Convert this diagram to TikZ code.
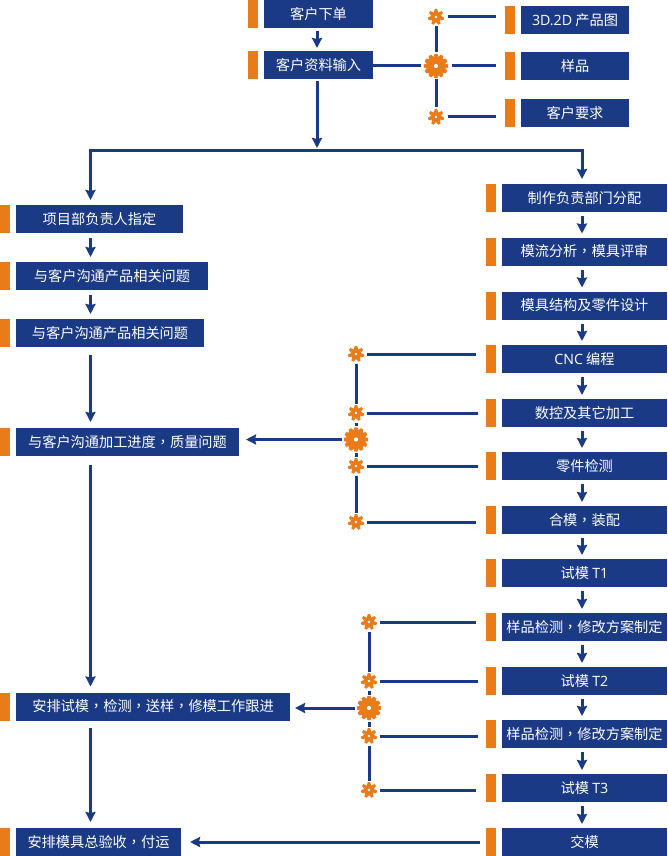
\documentclass[tikz,border=0pt]{standalone}
\usepackage{fontspec}
\setmainfont{Noto Sans CJK SC}
\newfontfamily\latinfont{Open Sans}
\newfontfamily\commafont{Noto Sans CJK TC}
\usetikzlibrary{positioning,arrows.meta}
\definecolor{stepblue}{HTML}{1A3A85}
\definecolor{steporange}{HTML}{E97B18}
\newcommand{\zc}{{\commafont ，}}
\newcommand{\lt}[1]{{\latinfont #1}}
\newcommand{\drawgear}[5]{% name, body radius, tip radius, teeth, tooth half width
    \fill[steporange] (#1) circle (#2);
    \foreach \t in {1,...,#4} {
        \fill[steporange,shift={(#1)},rotate=\t*360/#4]
            (-#5,#2-0.5) -- (-#5*0.6,#3) -- (#5*0.6,#3) -- (#5,#2-0.5) -- cycle;
    }
    \fill[white] (#1) circle (#3*0.17);
}
\tikzset{
    stepbox/.style={fill=stepblue,text=white,minimum height=28,inner sep=0,outer sep=0,font=\fontsize{14.2}{14.2}\selectfont},
    stepbar/.style={fill=steporange,minimum height=28,minimum width=9.5,inner sep=0,outer sep=0},
    smallgear/.style={circle,minimum size=16,inner sep=0,outer sep=1.5},
    biggear/.style={circle,minimum size=24,inner sep=0,outer sep=1.5},
    link/.style={draw=stepblue,line width=3},
    flow/.style={link,-{Stealth[length=10,width=10,inset=1]}},
}
\begin{document}
\begin{tikzpicture}[x=1pt,y=1pt]
    \useasboundingbox (0,0) rectangle (667,-856);
    \coordinate (leftx) at (90.5,0);
    \coordinate (rightx) at (582,0);
    \coordinate (fork) at (317,-150);
    \coordinate (forkleft) at (90.5,-150);
    \coordinate (forkright) at (582,-150);

    % top
    \node[stepbox,minimum width=109] (order) at (318.5,-14) {客户下单};
    \node[stepbox,minimum width=109] (input) at (318.5,-65) {客户资料输入};
    \node[stepbox,minimum width=108] (drawing) at (575,-20) {\lt{3D.2D} 产品图};
    \node[stepbox,minimum width=108] (sample) at (575,-66) {样品};
    \node[stepbox,minimum width=108] (demand) at (575,-113) {客户要求};

    % left column
    \node[stepbox,minimum width=167] (manager) at (99.5,-219) {项目部负责人指定};
    \node[stepbox,minimum width=192] (talka) at (112,-276) {与客户沟通产品相关问题};
    \node[stepbox,minimum width=188] (talkb) at (110,-333) {与客户沟通产品相关问题};
    \node[stepbox,minimum width=223] (talkc) at (127.5,-442) {与客户沟通加工进度\zc 质量问题};
    \node[stepbox,minimum width=274] (follow) at (153,-706.5) {安排试模\zc 检测\zc 送样\zc 修模工作跟进};
    \node[stepbox,minimum width=165] (accept) at (98.5,-842) {安排模具总验收\zc 付运};

    % right column
    \node[stepbox,minimum width=165] (assign) at (584.5,-198) {制作负责部门分配};
    \node[stepbox,minimum width=165] (review) at (584.5,-251.5) {模流分析\zc 模具评审};
    \node[stepbox,minimum width=165] (design) at (584.5,-305.5) {模具结构及零件设计};
    \node[stepbox,minimum width=165] (cnc) at (584.5,-359) {\lt{CNC} 编程};
    \node[stepbox,minimum width=165] (machining) at (584.5,-413) {数控及其它加工};
    \node[stepbox,minimum width=165] (inspect) at (584.5,-466) {零件检测};
    \node[stepbox,minimum width=165] (assemble) at (584.5,-520) {合模\zc 装配};
    \node[stepbox,minimum width=165] (tone) at (584.5,-573) {试模 \lt{T1}};
    \node[stepbox,minimum width=165] (checka) at (584.5,-627) {样品检测\zc 修改方案制定};
    \node[stepbox,minimum width=165] (ttwo) at (584.5,-681) {试模 \lt{T2}};
    \node[stepbox,minimum width=165] (checkb) at (584.5,-734) {样品检测\zc 修改方案制定};
    \node[stepbox,minimum width=165] (tthree) at (584.5,-788) {试模 \lt{T3}};
    \node[stepbox,minimum width=165] (deliver) at (584.5,-842) {交模};

    \foreach \b in {order,input,drawing,sample,demand,manager,talka,talkb,talkc,follow,accept,assign,review,design,cnc,machining,inspect,assemble,tone,checka,ttwo,checkb,tthree,deliver}
        \node[stepbar,left=6.5pt of \b] (\b bar) {};

    % gears
    \node[smallgear] (gtopa) at (436,-17) {};
    \node[biggear] (gtop) at (436,-66) {};
    \node[smallgear] (gtopb) at (436,-117) {};
    \node[smallgear] (gmida) at (356,-354) {};
    \node[smallgear] (gmidb) at (356,-413) {};
    \node[biggear] (gmid) at (356,-439.5) {};
    \node[smallgear] (gmidc) at (356,-466) {};
    \node[smallgear] (gmidd) at (356,-522) {};
    \node[smallgear] (gloa) at (369,-622) {};
    \node[smallgear] (glob) at (369,-681) {};
    \node[biggear] (glo) at (369,-708) {};
    \node[smallgear] (gloc) at (369,-736) {};
    \node[smallgear] (glod) at (369,-790) {};
    \foreach \g in {gtopa,gtopb,gmida,gmidb,gmidc,gmidd,gloa,glob,gloc,glod} {
        \drawgear{\g}{5.6}{8}{7}{2}
    }
    \foreach \g in {gtop,gmid,glo} {
        \drawgear{\g}{10}{12.2}{12}{2.4}
    }

    % top links
    \draw[flow,shorten <=3,shorten >=3] (order.south -| fork) -- (input.north -| fork);
    \draw[link,shorten >=2] (input.east |- gtop) -- (gtop);
    \draw[link,shorten <=2,shorten >=9] (gtop) -- (samplebar.west |- gtop);
    \draw[link,shorten <=2,shorten >=9] (gtopa) -- (drawingbar.west |- gtopa);
    \draw[link,shorten <=2,shorten >=9] (gtopb) -- (demandbar.west |- gtopb);
    \draw[link] (gtopa) -- (gtop);
    \draw[link] (gtop) -- (gtopb);

    % fork
    \draw[flow,shorten <=2,shorten >=2] (input.south -| fork) -- (fork);
    \draw[flow,shorten >=5] (forkleft) -- (manager.north -| forkleft);
    \draw[flow,shorten >=5] (forkright) -- (assign.north -| forkright);
    \draw[link,line cap=rect] (forkleft) -- (forkright);

    % left flow
    \draw[flow,shorten <=5,shorten >=5] (manager.south -| leftx) -- (talka.north -| leftx);
    \draw[flow,shorten <=5,shorten >=5] (talka.south -| leftx) -- (talkb.north -| leftx);
    \draw[flow,shorten <=8,shorten >=6] (talkb.south -| leftx) -- (talkc.north -| leftx);
    \draw[flow,shorten <=9,shorten >=6] (talkc.south -| leftx) -- (follow.north -| leftx);
    \draw[flow,shorten <=7,shorten >=6] (follow.south -| leftx) -- (accept.north -| leftx);

    % right flow
    \foreach \a/\b in {assign/review,review/design,design/cnc,cnc/machining,machining/inspect,inspect/assemble,assemble/tone,tone/checka,checka/ttwo,ttwo/checkb,checkb/tthree,tthree/deliver}
        \draw[flow,shorten <=4,shorten >=4] (\a.south -| rightx) -- (\b.north -| rightx);

    % middle gears
    \draw[link] (gmida) -- (gmidb);
    \draw[link] (gmidb) -- (gmid);
    \draw[link] (gmid) -- (gmidc);
    \draw[link] (gmidc) -- (gmidd);
    \draw[link,shorten <=1,shorten >=10] (gmida) -- (cncbar.west |- gmida);
    \draw[link,shorten <=1,shorten >=8] (gmidb) -- (machiningbar.west |- gmidb);
    \draw[link,shorten <=1,shorten >=8] (gmidc) -- (inspectbar.west |- gmidc);
    \draw[link,shorten <=1,shorten >=10] (gmidd) -- (assemblebar.west |- gmidd);
    \draw[flow,shorten <=1,shorten >=7] (gmid) -- (talkc.east |- gmid);

    % lower gears
    \draw[link] (gloa) -- (glob);
    \draw[link] (glob) -- (glo);
    \draw[link] (glo) -- (gloc);
    \draw[link] (gloc) -- (glod);
    \draw[link,shorten <=1,shorten >=10] (gloa) -- (checkabar.west |- gloa);
    \draw[link,shorten <=1,shorten >=8] (glob) -- (ttwobar.west |- glob);
    \draw[link,shorten <=1,shorten >=8] (gloc) -- (checkbbar.west |- gloc);
    \draw[link,shorten <=1,shorten >=10] (glod) -- (tthreebar.west |- glod);
    \draw[flow,shorten <=1,shorten >=5] (glo) -- (follow.east |- glo);

    % delivery
    \draw[flow,shorten <=6,shorten >=9] (deliverbar.west) -- (accept.east |- deliverbar.west);
\end{tikzpicture}
\end{document}
